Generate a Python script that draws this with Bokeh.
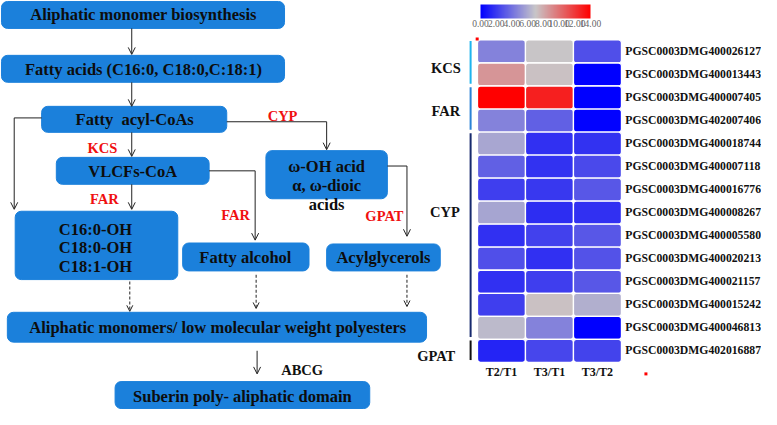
from bokeh.plotting import figure
from bokeh.models import (Range1d, LinearColorMapper, ColorBar, FixedTicker,
                          PrintfTickFormatter, Arrow, OpenHead, ColumnDataSource,
                          AllLabels)
from bokeh.core.properties import value
from bokeh.embed import file_html
from bokeh.resources import INLINE

# ---------------- data ----------------
genes = ["PGSC0003DMG400026127", "PGSC0003DMG400013443", "PGSC0003DMG400007405",
         "PGSC0003DMG402007406", "PGSC0003DMG400018744", "PGSC0003DMG400007118",
         "PGSC0003DMG400016776", "PGSC0003DMG400008267", "PGSC0003DMG400005580",
         "PGSC0003DMG400020213", "PGSC0003DMG400021157", "PGSC0003DMG400015242",
         "PGSC0003DMG400046813", "PGSC0003DMG402016887"]
ratios = ["T2/T1", "T3/T1", "T3/T2"]
t2_t1 = [4.6, 8.7, 14.0, 4.6, 5.9, 3.4, 2.2, 5.8, 1.7, 2.8, 1.7, 2.2, 6.6, 1.3]
t3_t1 = [7.0, 7.2, 12.9, 3.4, 1.7, 1.8, 2.0, 1.6, 2.3, 1.7, 2.2, 7.2, 4.6, 2.5]
t3_t2 = [2.8, 0.0, 0.0, 0.1, 1.8, 2.6, 3.1, 1.7, 3.1, 2.9, 3.1, 6.2, 0.0, 2.4]
groups = ["KCS", "FAR", "CYP", "GPAT"]
group_first = [0, 2, 4, 13]
group_last = [1, 3, 12, 13]
colorbar_ticks = [0, 2, 4, 6, 8, 10, 12, 14]

# ---------------- styles / layout ----------------
W, H = 761, 409
REF_W, REF_H = 777, 425
BLUE = "#1B80DB"
SERIF = value("Liberation Serif")
group_colors = ["#1EB4EE", "#2A82D6", "#172A6E", "#111111"]
group_label_pos = [(-0.66, 1.2), (-0.66, 3.1), (-0.68, 7.45), (-0.86, 13.72)]

# heatmap cell geometry inside the reference frame (pixels)
HX0, HCW = 487.0, 49.0
HY0, HRH = 41.0, 23.93

p = figure(width=W, height=H, output_backend="svg", toolbar_location=None,
           x_range=Range1d(0, REF_W), y_range=Range1d(REF_H, 0),
           min_border=0, min_border_left=0, min_border_right=0,
           min_border_top=0, min_border_bottom=0)
p.axis.visible = False
p.xgrid.visible = False
p.ygrid.visible = False
p.outline_line_color = None
p.background_fill_color = "white"

p.extra_x_ranges = {"heat": Range1d(-HX0 / HCW, (REF_W - HX0) / HCW)}
p.extra_y_ranges = {"heat": Range1d((REF_H - HY0) / HRH, -HY0 / HRH)}

# ---------------- flowchart ----------------
boxes = dict(
    left=[1, 1, 42, 57, 15, 271, 186, 333, 7, 117],
    right=[290, 290, 231, 213, 181, 395, 315, 449, 435, 377],
    top=[1, 57, 110, 163, 219, 156, 252, 253, 324, 396],
    bottom=[29, 85, 137, 191, 290, 206, 281, 281, 355, 424],
)
p.quad(source=ColumnDataSource(boxes), left="left", right="right", top="top",
       bottom="bottom", fill_color=BLUE, line_color=BLUE, border_radius=6)

box_text = dict(
    x=[146, 146, 137, 135, 97, 97, 97, 333, 333, 333, 250, 391, 222, 247],
    y=[15, 72, 124, 178, 238, 257, 276, 173, 192, 212, 267, 267, 340, 411],
    t=["Aliphatic monomer biosynthesis", "Fatty acids (C16:0, C18:0,C:18:1)",
       "Fatty\u00a0 acyl-CoAs", "VLCFs-CoA", "C16:0-OH", "C18:0-OH", "C18:1-OH",
       "\u03c9-OH acid", "\u03b1, \u03c9-dioic", "acids", "Fatty alcohol",
       "Acylglycerols", "Aliphatic monomers/ low molecular weight polyesters",
       "Suberin poly- aliphatic domain"],
)
p.text(source=ColumnDataSource(box_text), x="x", y="y", text="t",
       text_font=SERIF, text_font_style="bold", text_font_size="16.5px",
       text_color="#0d0d0d", text_align="center", text_baseline="middle")

enzyme_text = dict(
    x=[288, 104, 106, 240, 392],
    y=[120, 153, 206, 223, 224],
    t=["CYP", "KCS", "FAR", "FAR", "GPAT"],
)
p.text(source=ColumnDataSource(enzyme_text), x="x", y="y", text="t",
       text_font=SERIF, text_font_style="bold", text_font_size="14.5px",
       text_color="#F01010", text_align="center", text_baseline="middle")
p.text(x=[308], y=[384], text=["ABCG"], text_font=SERIF, text_font_style="bold",
       text_font_size="14.5px", text_color="#111111", text_align="center",
       text_baseline="middle")

# connector lines (no heads)
conn = dict(x0=[42, 231, 213, 395], y0=[122, 126, 177, 172],
            x1=[14, 333, 260, 415], y1=[122, 126, 177, 172])
p.segment(source=ColumnDataSource(conn), x0="x0", y0="y0", x1="x1", y1="y1",
          line_color="#222222", line_width=1)

solid_arrows = ColumnDataSource(dict(
    xs=[134, 134, 134, 134, 14, 333, 260, 415, 262],
    ys=[29, 85, 137, 191, 122, 126, 177, 172, 364],
    xe=[134, 134, 134, 134, 14, 333, 260, 415, 262],
    ye=[56, 110, 162, 217, 217, 155, 249, 245, 388],
))
p.add_layout(Arrow(source=solid_arrows, x_start="xs", y_start="ys", x_end="xe",
                   y_end="ye", line_color="#222222", line_width=1,
                   end=OpenHead(size=7, line_color="#222222", line_width=1)))

dash_arrows = ColumnDataSource(dict(
    xs=[132, 261, 415], ys=[292, 285, 285],
    xe=[132, 261, 415], ye=[323, 320, 318],
))
p.add_layout(Arrow(source=dash_arrows, x_start="xs", y_start="ys", x_end="xe",
                   y_end="ye", line_color="#222222", line_width=1, line_dash="3 2",
                   end=OpenHead(size=6, line_color="#222222", line_width=1)))

# ---------------- heatmap ----------------
def lerp(c1, c2, t):
    return tuple(int(round(a + (b - a) * t)) for a, b in zip(c1, c2))

lo, mid, hi = (0, 0, 255), (200, 198, 200), (255, 0, 0)
palette = []
for i in range(256):
    f = i / 255
    c = lerp(lo, mid, f * 2) if f <= 0.5 else lerp(mid, hi, (f - 0.5) * 2)
    palette.append("#%02x%02x%02x" % c)
mapper = LinearColorMapper(palette=palette, low=0, high=14)

cells = dict(left=[], right=[], top=[], bottom=[], val=[])
for ci, series in enumerate([t2_t1, t3_t1, t3_t2]):
    for ri, v in enumerate(series):
        cells["left"].append(ci)
        cells["right"].append(ci + 1)
        cells["top"].append(ri)
        cells["bottom"].append(ri + 1)
        cells["val"].append(v)
p.quad(source=ColumnDataSource(cells), left="left", right="right", top="top",
       bottom="bottom", x_range_name="heat", y_range_name="heat",
       fill_color={"field": "val", "transform": mapper},
       line_color="white", line_width=1.3, border_radius=3)

p.text(x=[3.08] * len(genes), y=[i + 0.5 for i in range(len(genes))], text=genes,
       x_range_name="heat", y_range_name="heat", text_font=SERIF,
       text_font_style="bold", text_font_size="11.7px", text_color="#111111",
       text_align="left", text_baseline="middle")
p.text(x=[i + 0.5 for i in range(len(ratios))], y=[14.4] * len(ratios), text=ratios,
       x_range_name="heat", y_range_name="heat", text_font=SERIF,
       text_font_style="bold", text_font_size="12px", text_color="#111111",
       text_align="center", text_baseline="middle")

p.segment(x0=[-0.143] * 4, x1=[-0.143] * 4,
          y0=[g + 0.05 for g in group_first], y1=[g + 0.9 for g in group_last],
          x_range_name="heat", y_range_name="heat", line_color=group_colors,
          line_width=2)
p.text(x=[q[0] for q in group_label_pos], y=[q[1] for q in group_label_pos],
       text=groups, x_range_name="heat", y_range_name="heat", text_font=SERIF,
       text_font_style="bold", text_font_size="14.5px", text_color="#111111",
       text_align="center", text_baseline="middle")

# small red marks present in the original figure
p.scatter(x=[486.7, 659], y=[40, 388], marker="square", size=3, color="#FF0000",
          line_color=None)

cb = ColorBar(color_mapper=mapper, orientation="horizontal", width=110, height=14,
              location=(480, 380), padding=0, margin=0,
              ticker=FixedTicker(ticks=colorbar_ticks),
              formatter=PrintfTickFormatter(format="%.2f"),
              major_label_policy=AllLabels(),
              major_label_text_font_size="9.5px", major_label_text_font="Liberation Serif",
              major_label_text_color="#666666", major_tick_line_color=None,
              bar_line_color=None, border_line_color=None, background_fill_alpha=0,
              label_standoff=1)
p.add_layout(cb, "center")

open("out.html", "w").write(file_html(p, INLINE))
